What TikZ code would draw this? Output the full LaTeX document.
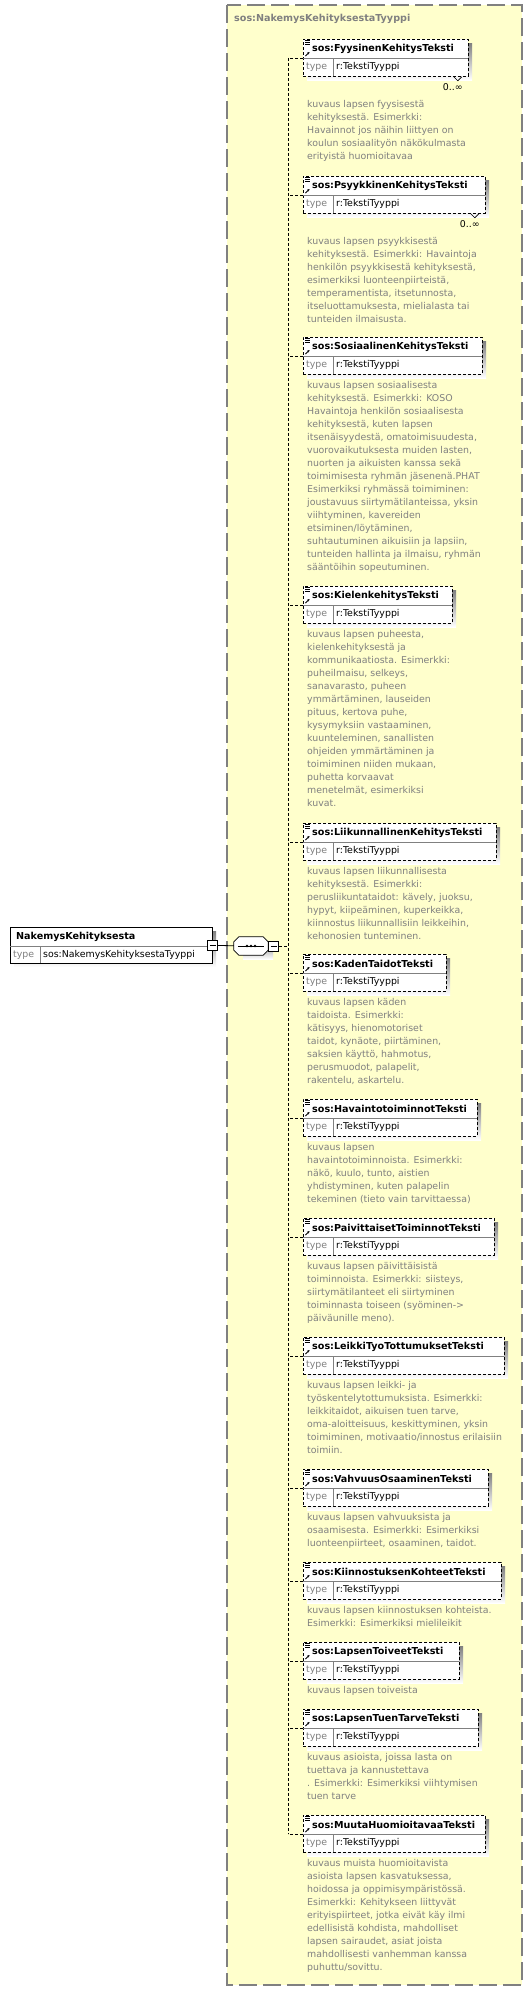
\documentclass[tikz,border=0pt]{standalone}
\usepackage{fontspec}
\setmainfont{DejaVu Sans}
\usetikzlibrary{positioning, calc, arrows.meta}
\definecolor{typefill}{RGB}{255,255,204}
\definecolor{docgray}{RGB}{128,128,128}
\definecolor{shade}{RGB}{192,192,192}

\tikzset{
  typebox/.style={fill=typefill, draw=docgray, line width=1.5pt, dash pattern=on 18pt off 6pt},
  elembox/.style={draw, fill=white, line width=0.8pt, dash pattern=on 3pt off 2pt, inner sep=0pt, anchor=north west, minimum height=37pt},
  rootbox/.style={draw, fill=white, line width=0.8pt, inner sep=0pt, anchor=north west, minimum height=36pt},
  cell/.style={draw=docgray, line width=0.6pt},
  conn/.style={line width=0.8pt, dash pattern=on 3pt off 2pt},
  elemname/.style={anchor=west, inner sep=0pt, font=\fontsize{9.6}{11}\selectfont\bfseries},
  typelabel/.style={anchor=west, inner sep=0pt, font=\fontsize{9.4}{11}\selectfont},
  doctext/.style={anchor=north west, align=left, inner sep=0pt, text=docgray, font=\fontsize{9.4}{13}\selectfont},
  minusbox/.style={draw, fill=white, line width=0.7pt, minimum size=10pt, inner sep=0pt,
    path picture={\draw ([xshift=2pt]path picture bounding box.west) -- ([xshift=-2pt]path picture bounding box.east);}}
}

% #1 node name, #2 top, #3 right edge, #4 label, #5 doc offset, #6 doc lines
\newcommand{\xsdelem}[6]{%
  \fill[shade] (307,#2+4) rectangle (#3+4,#2+41);
  \node[elembox, minimum width={#3-303}] (#1) at (303,#2) {};
  \draw[cell] (303,#2+19) -- (#3,#2+19);
  \draw[cell] (333,#2+19) -- (333,#2+37);
  \draw[line width=0.6pt] (305,#2+1.5) -- (310,#2+1.5) (305,#2+3.5) -- (310,#2+3.5) (305,#2+5.5) -- (310,#2+5.5);
  \draw[line width=0.8pt, -{Stealth[length=2.5pt, width=2.5pt]}] (305.5,#2+17) -- (309.5,#2+13);
  \node[elemname] at (312,#2+10) {#4};
  \node[typelabel, text=docgray] at (306,#2+28) {type};
  \node[typelabel] at (336,#2+28) {r:TekstiTyyppi};
  \node[doctext] (#1doc) at (307,#2+#5) {#6};
  \draw[conn] (#1.west) -- (#1.west -| trunk);
}
\newcommand{\xsdmulti}[1]{%
  \node[typelabel, anchor=east] at ([xshift=-6pt, yshift=-48pt]#1.north east) {0..∞};
  \draw[line width=0.6pt] ([xshift=-15pt]#1.south east) -- ++(4,4) -- ++(4,-4);
}

\begin{document}
\begin{tikzpicture}[x=1pt, y=-1pt]
    \useasboundingbox (0,0) rectangle (532,1990);
    % Complex type
    \draw[typebox] (227,5) rectangle (522,1985);
    \node[anchor=west, inner sep=0pt, text=docgray, font=\fontsize{9.6}{11}\selectfont\bfseries] (typetitle) at (234,19) {sos:NakemysKehityksestaTyyppi};
    \coordinate (trunk) at (288,57);
    % Root element
    \fill[shade] (14,931) rectangle (216,967);
    \node[rootbox, minimum width=202pt] (root) at (10,927) {};
    \draw[cell] (10,946) -- (212,946);
    \draw[cell] (40,946) -- (40,963);
    \node[elemname] at (16,937) {NakemysKehityksesta};
    \node[typelabel, text=docgray] at (13,955) {type};
    \node[typelabel] at (43,955) {sos:NakemysKehityksestaTyyppi};
    \node[minusbox] (rootminus) at (root.east) {};
    % Sequence
    \node[inner sep=0pt, minimum width=34pt, minimum height=18pt] (seq) at (251,946) {};
    \fill[shade] (243,941) -- (273,941) -- (273,959) -- (243,959) -- cycle;
    \draw[fill=white, line width=0.8pt] ([xshift=5pt]seq.north west) -- ([xshift=-5pt]seq.north east) -- ([yshift=-5pt]seq.north east)
      -- ([yshift=5pt]seq.south east) -- ([xshift=-5pt]seq.south east) -- ([xshift=5pt]seq.south west)
      -- ([yshift=5pt]seq.south west) -- ([yshift=-5pt]seq.north west) -- cycle;
    \draw[line width=1pt] ([xshift=4pt]seq.west) -- ([xshift=-4pt]seq.east);
    \foreach \dx in {-4,0,4} \fill ([xshift=\dx pt]seq.center) circle (1.4pt);
    \node[minusbox, right=0pt of seq] (seqminus) {};
    \draw[line width=0.8pt] (rootminus) -- (seq);
    \draw[conn] (seqminus) -- (seqminus -| trunk);
    % Elements
    \xsdelem{fyysinen}{39}{468}{sos:FyysinenKehitysTeksti}{61}{kuvaus lapsen fyysisestä\\kehityksestä. Esimerkki:\\Havainnot jos näihin liittyen on\\koulun sosiaalityön näkökulmasta\\erityistä huomioitavaa}
    \xsdmulti{fyysinen}
    \xsdelem{psyykkinen}{176}{485}{sos:PsyykkinenKehitysTeksti}{61}{kuvaus lapsen psyykkisestä\\kehityksestä. Esimerkki: Havaintoja\\henkilön psyykkisestä kehityksestä,\\esimerkiksi luonteenpiirteistä,\\temperamentista, itsetunnosta,\\itseluottamuksesta, mielialasta tai\\tunteiden ilmaisusta.}
    \xsdmulti{psyykkinen}
    \xsdelem{sosiaalinen}{337}{482}{sos:SosiaalinenKehitysTeksti}{44}{kuvaus lapsen sosiaalisesta\\kehityksestä. Esimerkki: KOSO\\Havaintoja henkilön sosiaalisesta\\kehityksestä, kuten lapsen\\itsenäisyydestä, omatoimisuudesta,\\vuorovaikutuksesta muiden lasten,\\nuorten ja aikuisten kanssa sekä\\toimimisesta ryhmän jäsenenä.PHAT\\Esimerkiksi ryhmässä toimiminen:\\joustavuus siirtymätilanteissa, yksin\\viihtyminen, kavereiden\\etsiminen/löytäminen,\\suhtautuminen aikuisiin ja lapsiin,\\tunteiden hallinta ja ilmaisu, ryhmän\\sääntöihin sopeutuminen.}
    \xsdelem{kielen}{586}{452}{sos:KielenkehitysTeksti}{44}{kuvaus lapsen puheesta,\\kielenkehityksestä ja\\kommunikaatiosta. Esimerkki:\\puheilmaisu, selkeys,\\sanavarasto, puheen\\ymmärtäminen, lauseiden\\pituus, kertova puhe,\\kysymyksiin vastaaminen,\\kuunteleminen, sanallisten\\ohjeiden ymmärtäminen ja\\toimiminen niiden mukaan,\\puhetta korvaavat\\menetelmät, esimerkiksi\\kuvat.}
    \xsdelem{liikunta}{823}{496}{sos:LiikunnallinenKehitysTeksti}{44}{kuvaus lapsen liikunnallisesta\\kehityksestä. Esimerkki:\\perusliikuntataidot: kävely, juoksu,\\hypyt, kiipeäminen, kuperkeikka,\\kiinnostus liikunnallisiin leikkeihin,\\kehonosien tunteminen.}
    \xsdelem{kaden}{954}{446}{sos:KadenTaidotTeksti}{44}{kuvaus lapsen käden\\taidoista. Esimerkki:\\kätisyys, hienomotoriset\\taidot, kynäote, piirtäminen,\\saksien käyttö, hahmotus,\\perusmuodot, palapelit,\\rakentelu, askartelu.}
    \xsdelem{havainto}{1099}{477}{sos:HavaintotoiminnotTeksti}{44}{kuvaus lapsen\\havaintotoiminnoista. Esimerkki:\\näkö, kuulo, tunto, aistien\\yhdistyminen, kuten palapelin\\tekeminen (tieto vain tarvittaessa)}
    \xsdelem{paivittaiset}{1218}{494}{sos:PaivittaisetToiminnotTeksti}{44}{kuvaus lapsen päivittäisistä\\toiminnoista. Esimerkki: siisteys,\\siirtymätilanteet eli siirtyminen\\toiminnasta toiseen (syöminen->\\päiväunille meno).}
    \xsdelem{leikki}{1337}{504}{sos:LeikkiTyoTottumuksetTeksti}{44}{kuvaus lapsen leikki- ja\\työskentelytottumuksista. Esimerkki:\\leikkitaidot, aikuisen tuen tarve,\\oma-aloitteisuus, keskittyminen, yksin\\toimiminen, motivaatio/innostus erilaisiin\\toimiin.}
    \xsdelem{vahvuus}{1469}{488}{sos:VahvuusOsaaminenTeksti}{44}{kuvaus lapsen vahvuuksista ja\\osaamisesta. Esimerkki: Esimerkiksi\\luonteenpiirteet, osaaminen, taidot.}
    \xsdelem{kiinnostus}{1562}{501}{sos:KiinnostuksenKohteetTeksti}{44}{kuvaus lapsen kiinnostuksen kohteista.\\Esimerkki: Esimerkiksi mielileikit}
    \xsdelem{toiveet}{1642}{459}{sos:LapsenToiveetTeksti}{44}{kuvaus lapsen toiveista}
    \xsdelem{tuen}{1709}{478}{sos:LapsenTuenTarveTeksti}{44}{kuvaus asioista, joissa lasta on\\tuettava ja kannustettava\\. Esimerkki: Esimerkiksi viihtymisen\\tuen tarve}
    \xsdelem{muuta}{1815}{485}{sos:MuutaHuomioitavaaTeksti}{44}{kuvaus muista huomioitavista\\asioista lapsen kasvatuksessa,\\hoidossa ja oppimisympäristössä.\\Esimerkki: Kehitykseen liittyvät\\erityispiirteet, jotka eivät käy ilmi\\edellisistä kohdista, mahdolliset\\lapsen sairaudet, asiat joista\\mahdollisesti vanhemman kanssa\\puhuttu/sovittu.}
    % Trunk
    \draw[conn] (fyysinen.west -| trunk) -- (muuta.west -| trunk);
\end{tikzpicture}
\end{document}
